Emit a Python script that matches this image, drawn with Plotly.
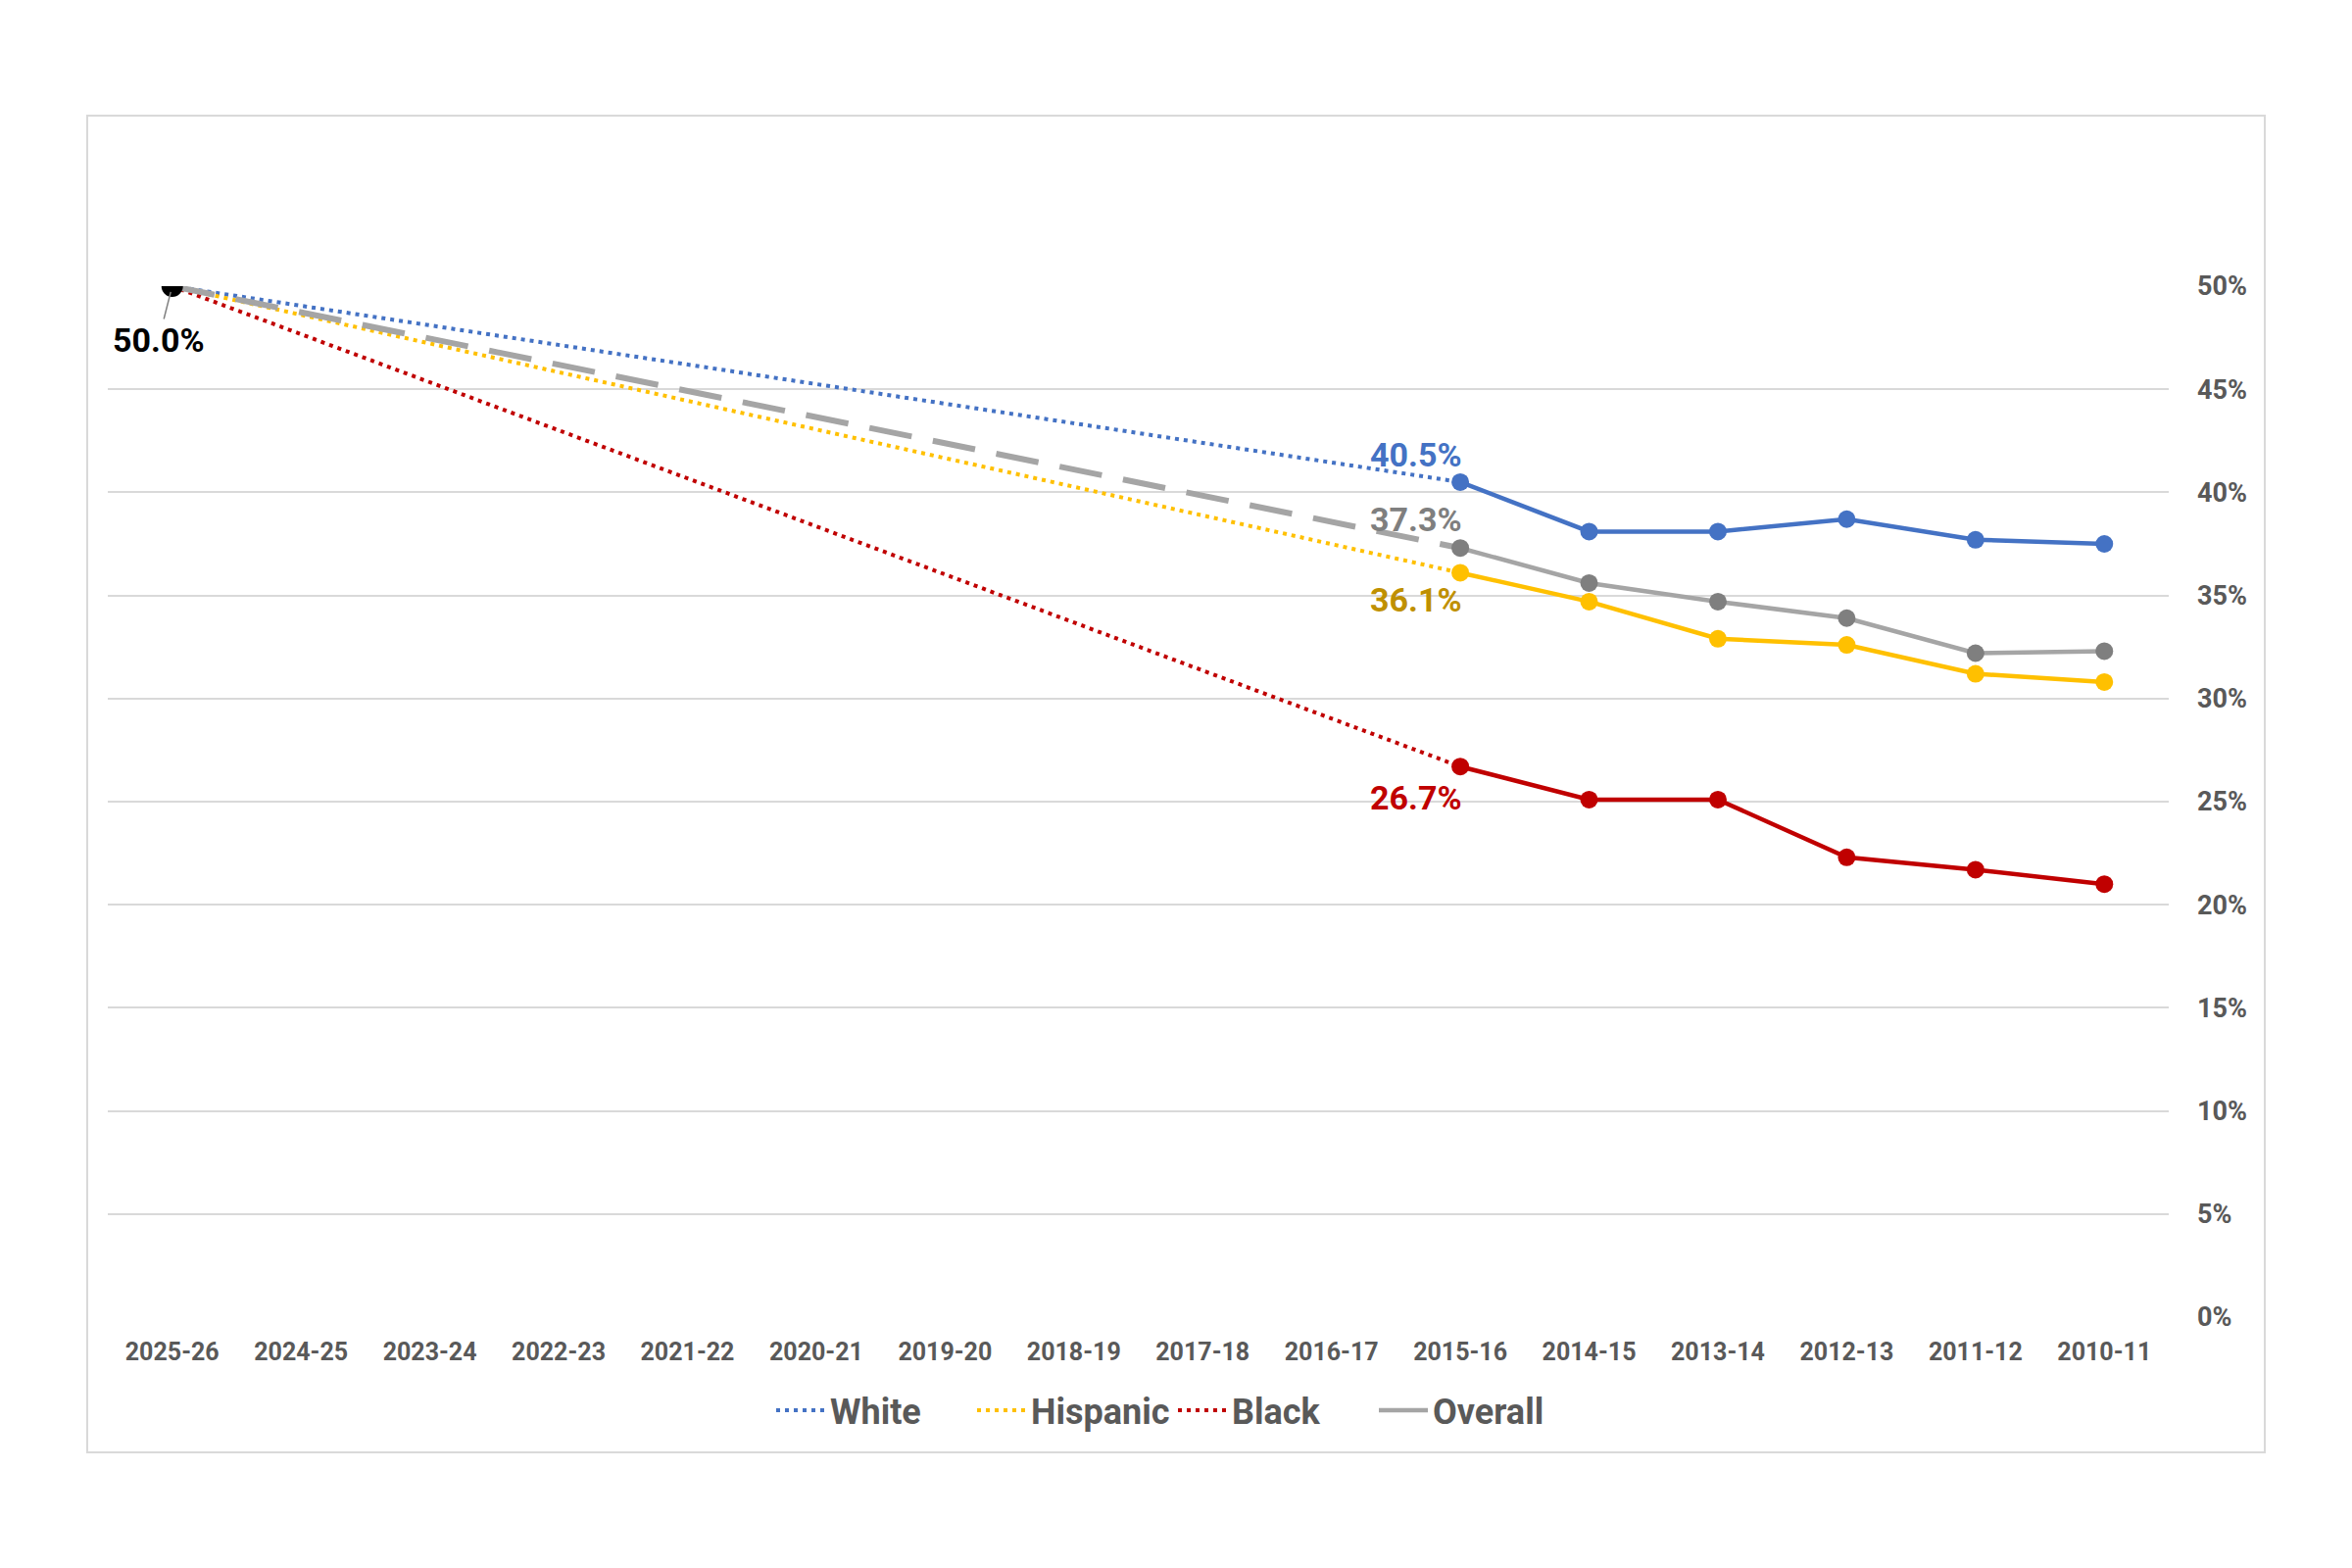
import plotly.graph_objects as go

# ---------------- data ----------------
categories = ["2010-11", "2011-12", "2012-13", "2013-14", "2014-15", "2015-16",
              "2016-17", "2017-18", "2018-19", "2019-20", "2020-21", "2021-22",
              "2022-23", "2023-24", "2024-25", "2025-26"]
actual_years = ["2010-11", "2011-12", "2012-13", "2013-14", "2014-15", "2015-16"]
white = [37.5, 37.7, 38.7, 38.1, 38.1, 40.5]
overall = [32.3, 32.2, 33.9, 34.7, 35.6, 37.3]
hispanic = [30.8, 31.2, 32.6, 32.9, 34.7, 36.1]
black = [21.0, 21.7, 22.3, 25.1, 25.1, 26.7]
goal_year = "2025-26"
goal_value = 50.0
y_ticks = [0, 5, 10, 15, 20, 25, 30, 35, 40, 45, 50]

# ---------------- styles ----------------
C_WHITE = "#4472C4"
C_HISP = "#FFC000"
C_BLACK = "#C00000"
C_OVER = "#A5A5A5"
C_OVER_MK = "#7F7F7F"
TXT = "#595959"
FONT = "Roboto"

W, H = 2400, 1600
ML, MR, MT, MB = 102, 195, 284, 264
PW, PH = W - ML - MR, H - MT - MB

fig = go.Figure()

last = actual_years[-1]

# legend-visible traces in visual order: White, Hispanic, Black, Overall
proj = [("White", white, C_WHITE), ("Hispanic", hispanic, C_HISP), ("Black", black, C_BLACK)]
for name, ser, col in proj:
    fig.add_trace(go.Scatter(
        x=[goal_year, last], y=[goal_value, ser[-1]], mode="lines", name=name,
        line=dict(color=col, width=4, dash="4px,5px"), hoverinfo="skip"))

fig.add_trace(go.Scatter(
    x=actual_years, y=overall, mode="lines", name="Overall",
    line=dict(color=C_OVER, width=4.5)))

fig.add_trace(go.Scatter(
    x=[goal_year, last], y=[goal_value, overall[-1]], mode="lines", showlegend=False,
    line=dict(color=C_OVER, width=6, dash="44px,22px"), hoverinfo="skip"))

fig.add_trace(go.Scatter(
    x=actual_years, y=overall, mode="markers", showlegend=False,
    marker=dict(color=C_OVER_MK, size=18)))

for name, ser, col in proj:
    fig.add_trace(go.Scatter(
        x=actual_years, y=ser, mode="lines+markers", showlegend=False,
        line=dict(color=col, width=4.5), marker=dict(color=col, size=18)))

fig.add_trace(go.Scatter(
    x=[goal_year], y=[goal_value], mode="markers", showlegend=False,
    marker=dict(color="#000000", size=22)))

# ---------------- labels ----------------
lab_font = dict(family=FONT, size=34)
labels = [
    (white[-1], C_WHITE, 28),
    (overall[-1], "#7F7F7F", 29),
    (hispanic[-1], "#BF9000", -28),
    (black[-1], C_BLACK, -32),
]
for yv, col, dy in labels:
    fig.add_annotation(x=last, y=yv, text=f"<b>{yv:.1f}%</b>", showarrow=False,
                       xanchor="right", yanchor="middle", xshift=4, yshift=dy,
                       font=dict(color=col, **lab_font))

fig.add_annotation(x=goal_year, y=goal_value, text=f"<b>{goal_value:.1f}%</b>",
                   showarrow=True, arrowhead=0, arrowwidth=1.5, arrowcolor="#808080",
                   ax=-14, ay=55, standoff=6,
                   font=dict(color="#000000", **lab_font))

# chart border (layout pixel coords)
bx0, bx1, by0, by1 = 81, 2303, 110, 1474
fig.add_shape(type="rect", xref="paper", yref="paper",
              x0=(bx0 - ML) / PW, x1=(bx1 - ML) / PW,
              y0=(H - MB - by1) / PH, y1=(H - MB - by0) / PH,
              line=dict(color="#D9D9D9", width=2), fillcolor="rgba(0,0,0,0)", layer="below")

fig.update_layout(
    width=W, height=H,
    margin=dict(l=ML, r=MR, t=MT, b=MB),
    paper_bgcolor="white", plot_bgcolor="white",
    font=dict(family=FONT, color=TXT),
    showlegend=True,
    legend=dict(orientation="h", x=(1189 - ML) / PW, xanchor="center",
                y=(H - MB - 1431) / PH, yanchor="middle",
                font=dict(size=36, color=TXT, family=FONT, weight="bold"),
                itemwidth=50, entrywidth=140, entrywidthmode="pixels",
                traceorder="normal"),
)
fig.update_xaxes(type="category", categoryorder="array", categoryarray=categories,
                 range=[len(categories) - 0.5, -0.5], showgrid=False, showline=False, ticks="",
                 zeroline=False, ticklabelstandoff=18,
                 tickfont=dict(size=25, color=TXT, family=FONT, weight="bold"))
fig.update_yaxes(range=[0, 50], side="right", tickvals=y_ticks,
                 ticktext=[f"{v}%" for v in y_ticks],
                 showgrid=True, gridcolor="#D9D9D9", gridwidth=2, zeroline=False,
                 showline=False, ticks="", ticklabelstandoff=28,
                 tickfont=dict(size=27, color=TXT, family=FONT, weight="bold"))

fig.write_html("out.html")
